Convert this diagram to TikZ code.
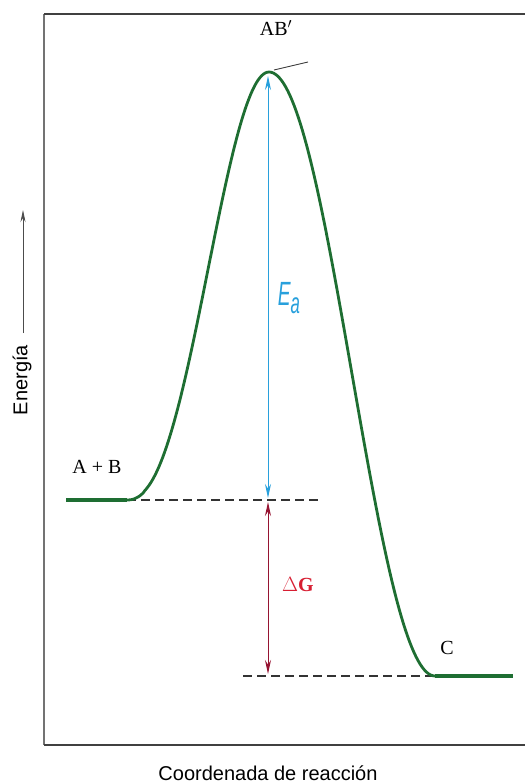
\documentclass[tikz,border=0pt]{standalone}
\usepackage{fontspec}
\setmainfont{Liberation Serif}
\setsansfont{Liberation Sans}
\usetikzlibrary{arrows.meta}
\definecolor{curvegreen}{RGB}{30,110,50}
\definecolor{eablue}{RGB}{40,160,220}
\definecolor{dgred}{RGB}{150,20,50}
\definecolor{dgtext}{RGB}{215,30,50}
\tikzset{
  frameline/.style={line width=2pt, draw=black!75},
  levelline/.style={dashed, dash pattern=on 9pt off 5pt, line width=1.6pt, draw=black!80},
  curve/.style={draw=curvegreen, line width=2.8pt},
  plateau/.style={draw=curvegreen, line width=4.5pt},
  lbl/.style={font=\fontsize{20}{24}\selectfont, inner sep=0pt},
  ealine/.style={draw=eablue, line width=1pt, {Stealth[length=14pt,width=6pt]}-{Stealth[length=14pt,width=6pt]}},
  dgline/.style={draw=dgred, line width=1pt, {Stealth[length=14pt,width=6pt]}-{Stealth[length=14pt,width=6pt]}}
}
\begin{document}
\begin{tikzpicture}[x=1pt,y=-1pt]
\useasboundingbox (0,0) rectangle (525,784);
% frame
\coordinate (TL) at (44,14);
\coordinate (TR) at (525,14);
\coordinate (BL) at (44,745);
\coordinate (BR) at (525,745);
\draw[frameline, draw=black!55] (TL) -- (BL);
\draw[frameline] (TL) -- (TR);
\draw[frameline, line width=2.6pt] (BL) -- (BR);
% level points
\coordinate (L0) at (66,500);
\coordinate (L1) at (127,500);
\coordinate (P) at (269,72);
\coordinate (R0) at (435,676);
\coordinate (R1) at (513,676);
% dashed levels
\coordinate (D1) at (318,500);
\coordinate (D2) at (243,676);
\draw[levelline] (L1) -- (D1);
\draw[levelline] (D2) -- (R0);
% curve
\draw[plateau] (L0) -- (L1);
\draw[plateau] (R0) -- (R1);
\draw[curve, line cap=round] plot[domain=0:1, samples=80] ({127+142*\x},{500-428*(1-cos(180*(\x)^1.15))/2})
  -- plot[domain=0:1, samples=80] ({269+166*\x},{72+604*(1-cos(180*\x))/2});
% tangent at peak
\coordinate (T1) at (274,70);
\coordinate (T2) at (308,62);
\draw[black!75, line width=0.9pt] (T1) -- (T2);
% arrows
\coordinate (EaTop) at (268,76);
\coordinate (EaBot) at (268,498);
\draw[ealine] (EaTop) -- (EaBot);
\coordinate (GTop) at (268,502);
\coordinate (GBot) at (268,674);
\draw[dgline] (GTop) -- (GBot);
% labels
\node[lbl] (ab) at (276,28) {AB$'$};
\node[lbl] (apb) at (97,467) {A + B};
\node[lbl] (c) at (447,648) {C};
\node[inner sep=0pt, text=eablue, font=\sffamily\itshape\fontsize{24}{28}\selectfont, xscale=0.8, yscale=1.4] (ea) at (289,298) {E\raisebox{-6pt}{\fontsize{21}{24}\selectfont a}};
\node[inner sep=0pt, text=dgtext, font=\fontsize{20}{24}\selectfont\bfseries] (dg) at (298,585) {$\Delta$G};
\node[inner sep=0pt, font=\sffamily\fontsize{20}{24}\selectfont, rotate=90] (en) at (22,380) {Energía};
\coordinate (EnA) at (23,333);
\coordinate (EnB) at (23,210);
\draw[black!70, line width=0.9pt, -{Stealth[length=12pt,width=5pt]}] (EnA) -- (EnB);
\node[inner sep=0pt, font=\sffamily\fontsize{20}{24}\selectfont] (xl) at (268,773) {Coordenada de reacción};
\end{tikzpicture}
\end{document}
